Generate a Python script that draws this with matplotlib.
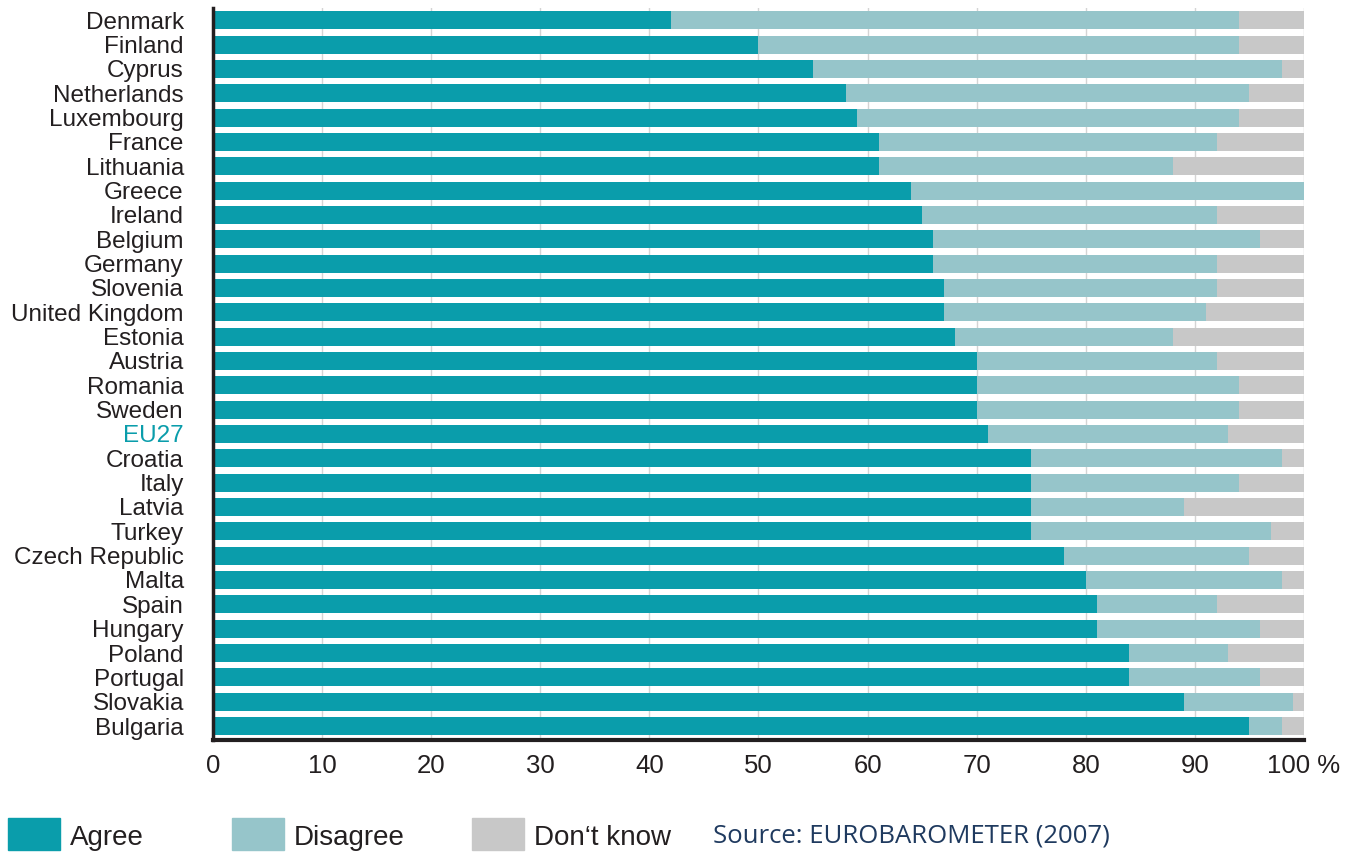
import matplotlib.pyplot as plt
from matplotlib.patches import Rectangle

# Data (percent)
countries = ['Denmark', 'Finland', 'Cyprus', 'Netherlands', 'Luxembourg', 'France',
             'Lithuania', 'Greece', 'Ireland', 'Belgium', 'Germany', 'Slovenia',
             'United Kingdom', 'Estonia', 'Austria', 'Romania', 'Sweden', 'EU27',
             'Croatia', 'Italy', 'Latvia', 'Turkey', 'Czech Republic', 'Malta',
             'Spain', 'Hungary', 'Poland', 'Portugal', 'Slovakia', 'Bulgaria']
agree = [42, 50, 55, 58, 59, 61, 61, 64, 65, 66, 66, 67, 67, 68, 70, 70, 70, 71,
         75, 75, 75, 75, 78, 80, 81, 81, 84, 84, 89, 95]
disagree = [52, 44, 43, 37, 35, 31, 27, 36, 27, 30, 26, 25, 24, 20, 22, 24, 24, 22,
            23, 19, 14, 22, 17, 18, 11, 15, 9, 12, 10, 3]
dont_know = [100 - a - d for a, d in zip(agree, disagree)]

xticks = [0, 10, 20, 30, 40, 50, 60, 70, 80, 90, 100]
xticklabels = ['0', '10', '20', '30', '40', '50', '60', '70', '80', '90', '100 %']

c_agree = '#0a9dab'
c_disagree = '#96c5ca'
c_dk = '#c8c8c8'
txt = '#231f20'
font = ['Liberation Sans', 'DejaVu Sans']

fig = plt.figure(figsize=(13.53, 8.55), dpi=100)
ax = fig.add_axes([0.1574, 0.1345, 0.8064, 0.856])

y = list(range(len(countries)))
h = 0.74
ax.barh(y, agree, height=h, color=c_agree, zorder=2)
ax.barh(y, disagree, left=agree, height=h, color=c_disagree, zorder=2)
left_dk = [a + d for a, d in zip(agree, disagree)]
ax.barh(y, dont_know, left=left_dk, height=h, color=c_dk, zorder=2)

ax.set_xlim(0, 100)
ax.set_ylim(29.575, -0.5)
ax.set_yticks(y)
ax.set_yticklabels(countries, family=font, fontsize=17.5, color=txt)
for lbl in ax.get_yticklabels():
    if lbl.get_text() == 'EU27':
        lbl.set_color(c_agree)
ax.set_xticks(xticks)
ax.set_xticklabels(xticklabels, family=font, fontsize=18.5, color=txt)
ax.tick_params(axis='both', length=0)
ax.tick_params(axis='x', pad=10)
ax.tick_params(axis='y', pad=21)

ax.grid(axis='x', color='#d4d4d4', linewidth=1, zorder=0)
ax.set_axisbelow(True)
for s in ['top', 'right']:
    ax.spines[s].set_visible(False)
ax.spines['left'].set_linewidth(2.5)
ax.spines['bottom'].set_linewidth(3)
ax.spines['left'].set_color(txt)
ax.spines['bottom'].set_color(txt)

# Legend along the bottom
W, H = 1353.0, 855.0
legend_items = [('Agree', c_agree, 8), ('Disagree', c_disagree, 232), ("Don\u2018t know", c_dk, 472)]
for name, col, px in legend_items:
    fig.patches.append(Rectangle((px / W, 1 - 850 / H), 52 / W, 32 / H,
                                 transform=fig.transFigure, color=col))
    fig.text((px + 62) / W, 1 - 838 / H, name, family=font, fontsize=20,
             color=txt, va='center', ha='left')

fig.text(713 / W, 1 - 836 / H, 'Source: EUROBAROMETER (2007)', family=['Open Sans', 'DejaVu Sans'],
         fontsize=18.5, color='#1f3a5f', va='center', ha='left')

fig.savefig('out.png', dpi=100)
